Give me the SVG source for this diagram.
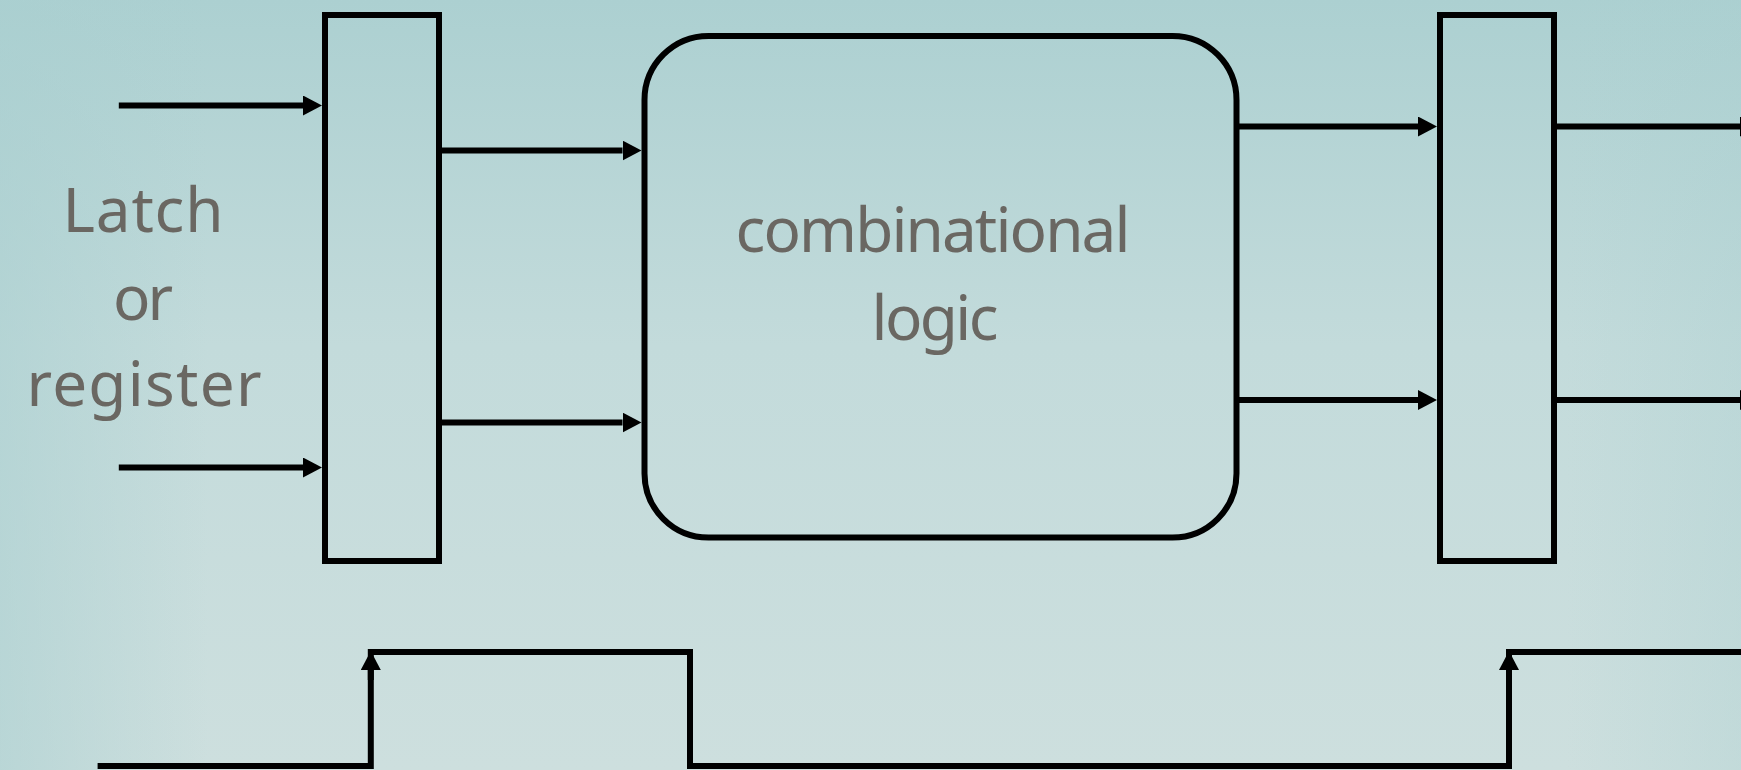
<svg xmlns="http://www.w3.org/2000/svg" width="1741" height="770" viewBox="0 0 1741 770">
  <defs>
    <linearGradient id="bgV" x1="0" y1="0" x2="0" y2="1">
      <stop offset="0" stop-color="#acd0d1"/>
      <stop offset="0.45" stop-color="#c3dbdb"/>
      <stop offset="1" stop-color="#cddfde"/>
    </linearGradient>
    <linearGradient id="bgH" x1="0" y1="0" x2="1" y2="0">
      <stop offset="0" stop-color="#a9cfd0" stop-opacity="0.55"/>
      <stop offset="0.12" stop-color="#a9cfd0" stop-opacity="0"/>
      <stop offset="0.9" stop-color="#a9cfd0" stop-opacity="0"/>
      <stop offset="1" stop-color="#a9cfd0" stop-opacity="0.3"/>
    </linearGradient>
    <marker id="arrow" viewBox="0 0 19 20" refX="0" refY="10" markerWidth="19" markerHeight="20" markerUnits="userSpaceOnUse" orient="auto">
      <path d="M0,0 L19,10 L0,20 Z" fill="#000"/>
    </marker>
    <style>
      .box { fill: none; stroke: #000; stroke-width: 6; }
      .wire { fill: none; stroke: #000; stroke-width: 6; }
      .arrowed { marker-end: url(#arrow); }
      .label { font-family: "Noto Sans", "Open Sans", sans-serif; font-size: 62px; fill: #6a6762; text-anchor: middle; }
    </style>
  </defs>

  <!-- backdrop -->
  <rect x="0" y="0" width="1741" height="770" fill="url(#bgV)"/>
  <rect x="0" y="0" width="1741" height="770" fill="url(#bgH)"/>

  <!-- side caption -->
  <g id="caption">
    <text class="label" x="143" y="232" textLength="161" lengthAdjust="spacing">Latch</text>
    <text class="label" x="143" y="320" textLength="60" lengthAdjust="spacing">or</text>
    <text class="label" x="144" y="406" textLength="235" lengthAdjust="spacing">register</text>
  </g>

  <!-- input latch -->
  <g id="latch-in">
    <rect class="box" x="325" y="15" width="114" height="546"/>
  </g>

  <!-- combinational logic block -->
  <g id="logic">
    <rect class="box" x="644.5" y="36" width="592" height="501.5" rx="64" ry="64"/>
    <text class="label" x="933" y="252" textLength="395" lengthAdjust="spacing">combinational</text>
    <text class="label" x="935" y="340" textLength="127" lengthAdjust="spacing">logic</text>
  </g>

  <!-- output latch -->
  <g id="latch-out">
    <rect class="box" x="1440" y="15" width="114" height="546"/>
  </g>

  <!-- clock waveform -->
  <g id="clock">
    <path class="wire" stroke-linejoin="miter" d="M97.6,766 H370.8 V652 H690 V766 H1509 V652 H1760"/>
    <path class="wire arrowed" d="M370.8,680 V670"/>
    <path class="wire arrowed" d="M1509,680 V670"/>
  </g>

  <!-- signal connectors -->
  <g id="connectors">
    <path class="wire arrowed" d="M118.8,105.5 H303"/>
    <path class="wire arrowed" d="M118.8,467.5 H303"/>
    <path class="wire arrowed" d="M439,150.5 H622.5"/>
    <path class="wire arrowed" d="M439,422.5 H622.5"/>
    <path class="wire arrowed" d="M1236.5,126.5 H1418"/>
    <path class="wire arrowed" d="M1236.5,400 H1418"/>
    <path class="wire arrowed" d="M1554,126.5 H1740"/>
    <path class="wire arrowed" d="M1554,400 H1740"/>
  </g>
</svg>
